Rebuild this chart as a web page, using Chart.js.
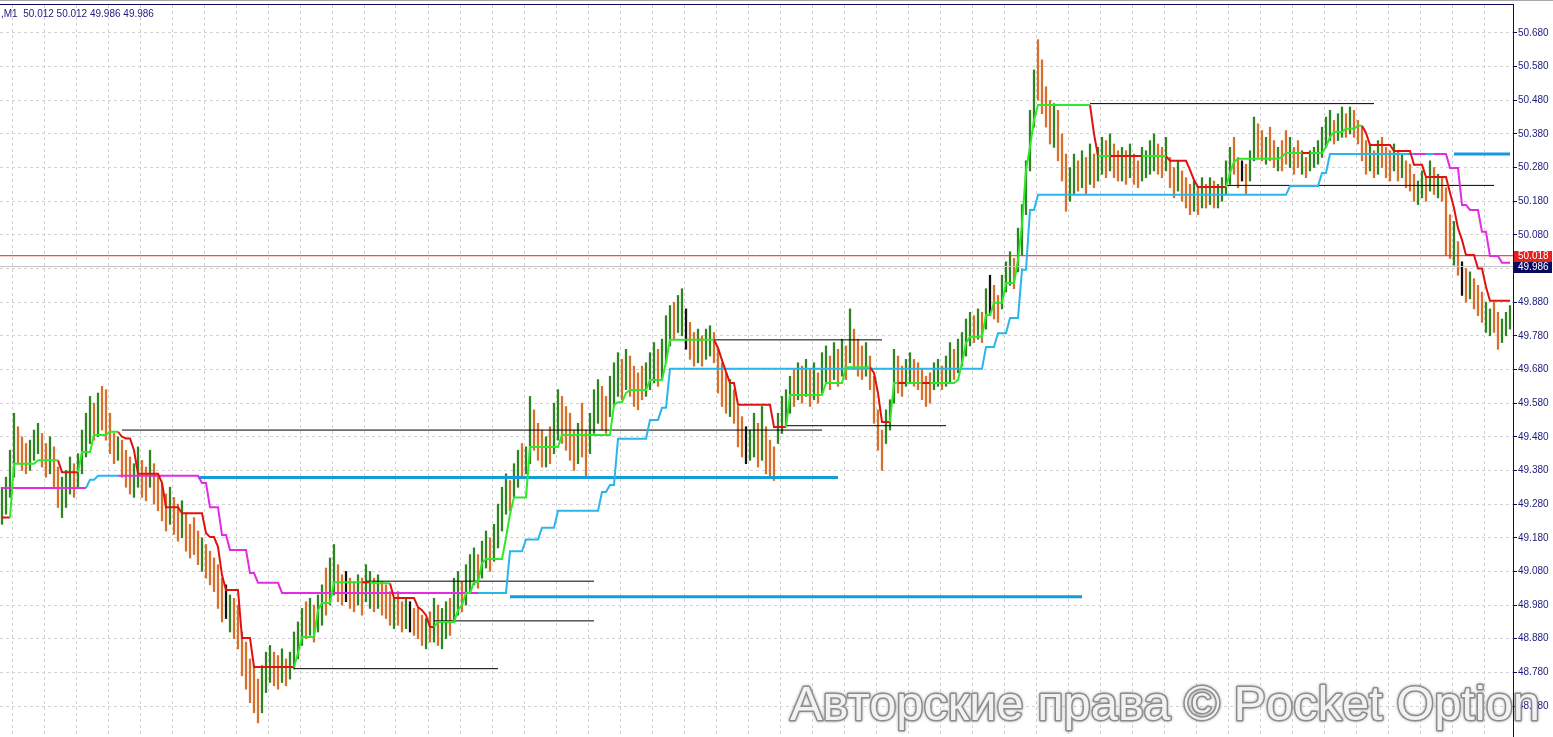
<!DOCTYPE html>
<html>
<head>
<meta charset="utf-8">
<title>M1</title>
<script src="https://cdn.jsdelivr.net/npm/chart.js@4.4.1/dist/chart.umd.min.js"></script>
<style>
  html, body { margin: 0; padding: 0; background: #fff; overflow: hidden; }
  canvas { display: block; }
</style>
</head>
<body>
<canvas id="chart" width="1553" height="737"></canvas>
<script>
// M1 bars, one entry per minute (high / low)
const barHigh = [
    49.33, 49.36, 49.44, 49.55, 49.51, 49.48, 49.46, 49.47,
    49.50, 49.52, 49.49, 49.46, 49.48, 49.45, 49.39, 49.36,
    49.38, 49.42, 49.40, 49.43, 49.50, 49.55, 49.60, 49.58,
    49.61, 49.63, 49.62, 49.55, 49.49, 49.48, 49.47, 49.44,
    49.42, 49.40, 49.45, 49.41, 49.39, 49.44, 49.40, 49.36,
    49.34, 49.31, 49.33, 49.30, 49.28, 49.29, 49.25, 49.22,
    49.24, 49.20, 49.18, 49.16, 49.14, 49.12, 49.10, 49.06,
    49.04, 49.01, 49.00, 48.98, 48.90, 48.87, 48.82, 48.80,
    48.76, 48.80, 48.84, 48.86, 48.84, 48.83, 48.85, 48.82,
    48.84, 48.90, 48.93, 48.97, 48.99, 49.00, 48.98, 49.01,
    49.04, 49.09, 49.12, 49.16, 49.10, 49.07, 49.08, 49.06,
    49.05, 49.07, 49.06, 49.10, 49.08, 49.06, 49.07, 49.05,
    49.04, 49.02, 49.00, 49.02, 48.99, 49.00, 48.99, 48.97,
    48.97, 48.95, 48.94, 48.96, 49.00, 48.98, 48.97, 48.99,
    49.00, 49.06, 49.08, 49.05, 49.10, 49.13, 49.15, 49.13,
    49.17, 49.20, 49.18, 49.22, 49.28, 49.33, 49.37, 49.35,
    49.40, 49.44, 49.46, 49.45, 49.60, 49.56, 49.52, 49.50,
    49.48, 49.51, 49.58, 49.62, 49.60, 49.57, 49.55, 49.50,
    49.52, 49.58, 49.50, 49.55, 49.62, 49.65, 49.63, 49.60,
    49.66, 49.70, 49.73, 49.71, 49.74, 49.72, 49.69, 49.67,
    49.69, 49.70, 49.73, 49.76, 49.74, 49.77, 49.84, 49.87,
    49.88, 49.90, 49.92, 49.86, 49.82, 49.79, 49.80, 49.78,
    49.80, 49.81, 49.79, 49.74, 49.70, 49.67, 49.65, 49.62,
    49.57, 49.54, 49.51, 49.50, 49.55, 49.52, 49.57, 49.51,
    49.47, 49.45, 49.55, 49.60, 49.62, 49.66, 49.68, 49.70,
    49.69, 49.71, 49.68, 49.70, 49.67, 49.73, 49.75, 49.72,
    49.76, 49.74, 49.77, 49.75, 49.86, 49.80, 49.77, 49.75,
    49.76, 49.72, 49.66, 49.56, 49.50, 49.56, 49.59, 49.74,
    49.72, 49.69, 49.71, 49.73, 49.71, 49.70, 49.68, 49.66,
    49.67, 49.70, 49.71, 49.69, 49.72, 49.76, 49.74, 49.77,
    49.79, 49.83, 49.85, 49.84, 49.86, 49.85, 49.92, 49.96,
    49.93, 49.90, 49.96, 50.00, 50.03, 50.01, 50.10, 50.17,
    50.30, 50.45, 50.57, 50.66, 50.60, 50.52, 50.48, 50.47,
    50.45, 50.38, 50.32, 50.28, 50.32, 50.30, 50.33, 50.31,
    50.35, 50.32, 50.34, 50.37, 50.36, 50.38, 50.35, 50.33,
    50.34, 50.33, 50.35, 50.32, 50.30, 50.34, 50.33, 50.36,
    50.38, 50.35, 50.34, 50.37, 50.31, 50.28, 50.30, 50.27,
    50.25, 50.23, 50.24, 50.22, 50.25, 50.23, 50.25, 50.24,
    50.23, 50.25, 50.30, 50.34, 50.37, 50.31, 50.30, 50.29,
    50.33, 50.43, 50.41, 50.39, 50.37, 50.40, 50.36, 50.34,
    50.36, 50.39, 50.37, 50.34, 50.36, 50.33, 50.31, 50.33,
    50.34, 50.36, 50.40, 50.43, 50.45, 50.42, 50.44, 50.46,
    50.44, 50.46, 50.45, 50.42, 50.40, 50.36, 50.35, 50.33,
    50.36, 50.37, 50.34, 50.33, 50.35, 50.33, 50.32, 50.30,
    50.29, 50.26, 50.24, 50.27, 50.25, 50.30, 50.28, 50.26,
    50.25, 50.22, 50.14, 50.12, 50.06, 50.00, 49.98, 49.97,
    49.95, 49.93, 49.91, 49.88, 49.86, 49.88, 49.85, 49.83,
    49.85, 49.87
];
const barLow = [
    49.22, 49.25, 49.30, 49.36, 49.40, 49.38, 49.37, 49.38,
    49.41, 49.43, 49.39, 49.36, 49.37, 49.33, 49.27, 49.24,
    49.27, 49.31, 49.30, 49.33, 49.37, 49.42, 49.46, 49.47,
    49.48, 49.50, 49.47, 49.43, 49.40, 49.41, 49.36, 49.33,
    49.31, 49.30, 49.33, 49.30, 49.29, 49.33, 49.28, 49.26,
    49.23, 49.20, 49.22, 49.19, 49.17, 49.18, 49.14, 49.12,
    49.13, 49.10, 49.08, 49.06, 49.04, 49.02, 48.97, 48.93,
    48.94, 48.90, 48.88, 48.85, 48.77, 48.73, 48.69, 48.66,
    48.63, 48.66, 48.72, 48.75, 48.74, 48.73, 48.75, 48.74,
    48.76, 48.79, 48.82, 48.86, 48.88, 48.89, 48.87, 48.90,
    48.92, 48.95, 48.98, 49.01, 48.99, 48.98, 48.99, 48.97,
    48.96, 48.98, 48.95, 48.99, 48.97, 48.96, 48.97, 48.95,
    48.94, 48.92, 48.91, 48.92, 48.90, 48.91, 48.90, 48.89,
    48.88, 48.86, 48.85, 48.87, 48.87, 48.86, 48.85, 48.88,
    48.89, 48.93, 48.95, 48.96, 48.98, 49.02, 49.04, 49.03,
    49.06, 49.09, 49.08, 49.11, 49.15, 49.20, 49.25, 49.26,
    49.30, 49.33, 49.36, 49.37, 49.40, 49.44, 49.41, 49.39,
    49.39, 49.40, 49.43, 49.47, 49.46, 49.44, 49.41, 49.38,
    49.40, 49.42, 49.36, 49.43, 49.49, 49.52, 49.50, 49.49,
    49.54, 49.57, 49.60, 49.59, 49.62, 49.60, 49.57, 49.56,
    49.59, 49.60, 49.62, 49.64, 49.63, 49.65, 49.70, 49.75,
    49.77, 49.79, 49.78, 49.74, 49.71, 49.69, 49.70, 49.69,
    49.71, 49.72, 49.70, 49.61, 49.57, 49.55, 49.54, 49.52,
    49.45, 49.42, 49.40, 49.41, 49.42, 49.39, 49.41, 49.37,
    49.36, 49.35, 49.46, 49.49, 49.51, 49.55, 49.57, 49.59,
    49.58, 49.60, 49.57, 49.59, 49.58, 49.61, 49.64, 49.62,
    49.65, 49.63, 49.66, 49.65, 49.70, 49.68, 49.66, 49.65,
    49.66, 49.62, 49.52, 49.44, 49.38, 49.46, 49.50, 49.58,
    49.61, 49.60, 49.63, 49.64, 49.63, 49.62, 49.59, 49.57,
    49.58, 49.62, 49.63, 49.62, 49.63, 49.64, 49.65, 49.67,
    49.69, 49.72, 49.75, 49.76, 49.77, 49.76, 49.80, 49.84,
    49.83, 49.82, 49.86, 49.91, 49.93, 49.92, 49.97, 50.02,
    50.14, 50.27, 50.40, 50.48, 50.44, 50.40, 50.35, 50.34,
    50.30, 50.24, 50.15, 50.18, 50.20, 50.21, 50.22, 50.20,
    50.23, 50.22, 50.24, 50.26, 50.25, 50.27, 50.25, 50.24,
    50.24, 50.23, 50.25, 50.23, 50.22, 50.24, 50.25, 50.26,
    50.27, 50.26, 50.25, 50.27, 50.22, 50.19, 50.21, 50.18,
    50.16, 50.14, 50.15, 50.14, 50.16, 50.16, 50.17, 50.16,
    50.16, 50.18, 50.20, 50.23, 50.26, 50.22, 50.24, 50.20,
    50.24, 50.30, 50.31, 50.30, 50.29, 50.30, 50.28, 50.27,
    50.27, 50.29, 50.28, 50.26, 50.28, 50.26, 50.25, 50.27,
    50.28, 50.29, 50.31, 50.34, 50.36, 50.35, 50.36, 50.37,
    50.37, 50.38, 50.37, 50.35, 50.30, 50.26, 50.27, 50.25,
    50.26, 50.28, 50.25, 50.24, 50.27, 50.24, 50.25, 50.22,
    50.21, 50.18, 50.17, 50.19, 50.18, 50.21, 50.20, 50.19,
    50.18, 50.02, 50.01, 49.99, 49.96, 49.90, 49.88, 49.89,
    49.86, 49.84, 49.82, 49.79, 49.78, 49.79, 49.74, 49.76,
    49.78, 49.80
];
// U = up bar (green), D = down bar (orange), N = no change (black)
const barDir =
    'UUUUDDDU' + 'UUDDUDDU' + 'UUDUUUUD' + 'UDDDDUDD' + 'DUUDDUDD' + 'DDUDDUDD' +
    'DDUDDDDD' + 'NUDDDDDD' + 'DUUUDDUD' + 'UUUUDUDU' + 'UDUUDDND' + 'DUDUUDUD' +
    'DDUDDUND' + 'DDUDUDUU' + 'DUUDUUUD' + 'UUDUUUUD' + 'UUDUUDDD' + 'UDUUDDDD' +
    'UDDUUUDD' + 'UUUDUDDD' + 'DUUUDUUU' + 'DUUNDDUD' + 'UUDDDDUD' + 'DDNUUDUD' +
    'DDUUUUDU' + 'DUDUDUUD' + 'UDUDUDDD' + 'UDDDDUUU' + 'DDUUDDDD' + 'DUUDUUDU' +
    'UUUDUDUN' + 'DDUUUDUU' + 'UUUDDDDU' + 'DDDUUDUD' + 'UDUUDUDD' + 'UDUDDUUU' +
    'UDDUDDUD' + 'DDUDUDUD' + 'UUUUDDND' + 'UUDDUDDU' + 'DDUDDUDU' + 'UUUUUDUU' +
    'DUDDDDUD' + 'UDDDUDUD' + 'DDUUDUDU' + 'DDDUDNDU' + 'DDDUUDDU' + 'UU';

// price scale labels (right axis)
const priceTicks = [50.680, 50.580, 50.480, 50.380, 50.280, 50.180, 50.080, 49.980, 49.880, 49.780,
    49.680, 49.580, 49.480, 49.380, 49.280, 49.180, 49.080, 48.980, 48.880, 48.780, 48.680];

// trailing stop: [fromBar, toBar, price, G = up / R = down]
const trailRuns = [
    [0, 2, 49.24, 'R'], [3, 8, 49.40, 'G'], [9, 14, 49.41, 'G'], [15, 19, 49.375, 'R'],
    [20, 22, 49.435, 'G'], [23, 26, 49.485, 'G'], [27, 29, 49.495, 'G'],
    [30, 30, 49.48, 'R'], [31, 32, 49.475, 'R'], [33, 33, 49.44, 'R'], [34, 39, 49.37, 'R'],
    [40, 40, 49.343, 'R'], [41, 44, 49.271, 'R'], [45, 50, 49.253, 'R'], [51, 51, 49.194, 'R'],
    [52, 53, 49.182, 'R'], [54, 54, 49.153, 'R'], [55, 55, 49.069, 'R'], [56, 59, 49.025, 'R'],
    [60, 62, 48.882, 'R'], [63, 73, 48.796, 'R'],
    [74, 74, 48.837, 'G'], [75, 78, 48.885, 'G'], [79, 79, 48.965, 'G'], [80, 82, 48.986, 'G'],
    [83, 90, 49.048, 'G'], [91, 92, 49.048, 'R'], [93, 97, 49.045, 'G'],
    [98, 103, 49.001, 'R'], [104, 104, 48.974, 'R'], [105, 105, 48.965, 'R'], [106, 106, 48.950, 'R'],
    [107, 108, 48.915, 'R'],
    [109, 113, 48.930, 'G'], [114, 114, 48.965, 'G'], [115, 115, 48.980, 'G'], [116, 117, 49.016, 'G'],
    [118, 119, 49.048, 'G'], [120, 120, 49.105, 'G'], [121, 125, 49.117, 'G'], [126, 126, 49.18, 'G'],
    [127, 127, 49.25, 'G'], [128, 131, 49.30, 'G'], [132, 139, 49.45, 'G'], [140, 146, 49.485, 'G'],
    [147, 147, 49.485, 'R'], [148, 152, 49.485, 'G'], [153, 153, 49.575, 'G'], [154, 155, 49.583, 'G'],
    [156, 156, 49.61, 'G'], [157, 161, 49.619, 'G'], [162, 165, 49.649, 'G'], [166, 166, 49.702, 'G'],
    [167, 174, 49.768, 'G'], [175, 175, 49.768, 'R'], [176, 178, 49.768, 'G'],
    [179, 179, 49.744, 'R'], [180, 180, 49.708, 'R'], [181, 181, 49.673, 'R'], [182, 183, 49.640, 'R'],
    [184, 192, 49.575, 'R'], [193, 196, 49.509, 'R'],
    [197, 205, 49.604, 'G'], [206, 210, 49.640, 'G'], [211, 217, 49.687, 'G'],
    [218, 218, 49.670, 'R'], [219, 219, 49.610, 'R'], [220, 222, 49.524, 'R'],
    [223, 224, 49.640, 'G'], [225, 226, 49.640, 'R'], [227, 230, 49.640, 'G'], [231, 232, 49.640, 'R'],
    [233, 238, 49.640, 'G'], [239, 239, 49.649, 'G'], [240, 240, 49.699, 'G'], [241, 241, 49.759, 'G'],
    [242, 245, 49.777, 'G'], [246, 247, 49.842, 'G'], [248, 250, 49.878, 'G'], [251, 253, 49.937, 'G'],
    [254, 254, 50.005, 'G'], [255, 255, 50.11, 'G'], [256, 256, 50.273, 'G'], [257, 257, 50.341, 'G'],
    [258, 258, 50.421, 'G'], [259, 272, 50.466, 'G'],
    [273, 273, 50.38, 'R'], [274, 274, 50.314, 'R'], [275, 277, 50.314, 'G'], [278, 285, 50.314, 'R'],
    [286, 291, 50.314, 'G'], [292, 296, 50.300, 'R'], [297, 297, 50.273, 'R'], [298, 298, 50.243, 'R'],
    [299, 306, 50.222, 'R'],
    [307, 307, 50.264, 'G'], [308, 308, 50.297, 'G'], [309, 319, 50.306, 'G'], [320, 320, 50.312, 'G'],
    [321, 325, 50.323, 'G'], [326, 327, 50.323, 'R'], [328, 330, 50.323, 'G'], [331, 331, 50.341, 'G'],
    [332, 332, 50.371, 'G'], [333, 335, 50.386, 'G'], [336, 338, 50.395, 'G'], [339, 340, 50.404, 'G'],
    [341, 341, 50.383, 'R'], [342, 347, 50.347, 'R'], [348, 352, 50.329, 'R'], [353, 355, 50.288, 'R'],
    [356, 361, 50.252, 'R'], [362, 362, 50.205, 'R'], [363, 363, 50.160, 'R'], [364, 364, 50.100, 'R'],
    [365, 365, 50.065, 'R'], [366, 368, 50.020, 'R'], [369, 370, 49.980, 'R'], [371, 371, 49.925, 'R'],
    [372, 377, 49.884, 'R']
];

// channel line: [fromBar, toBar, price, M = resistance (magenta) / C = support (cyan)]
const channelRuns = [
    [0, 21, 49.328, 'M'], [22, 23, 49.352, 'C'], [24, 29, 49.364, 'C'], [30, 49, 49.364, 'M'],
    [50, 51, 49.343, 'M'], [52, 54, 49.271, 'M'], [55, 56, 49.188, 'M'], [57, 61, 49.144, 'M'],
    [62, 63, 49.075, 'M'], [64, 69, 49.046, 'M'], [70, 119, 49.016, 'M'],
    [120, 126, 49.016, 'C'], [127, 130, 49.14, 'C'], [131, 134, 49.175, 'C'], [135, 138, 49.21, 'C'],
    [139, 149, 49.26, 'C'], [150, 151, 49.316, 'C'], [152, 153, 49.337, 'C'], [154, 161, 49.474, 'C'],
    [162, 164, 49.530, 'C'], [165, 166, 49.566, 'C'], [167, 245, 49.682, 'C'], [246, 248, 49.747, 'C'],
    [249, 251, 49.788, 'C'], [252, 254, 49.833, 'C'], [255, 256, 49.976, 'C'], [257, 258, 50.154, 'C'],
    [259, 321, 50.199, 'C'], [322, 329, 50.225, 'C'], [330, 331, 50.264, 'C'], [332, 353, 50.320, 'C'],
    [354, 356, 50.320, 'M'], [357, 358, 50.320, 'C'], [359, 361, 50.320, 'M'], [362, 364, 50.279, 'M'],
    [365, 366, 50.169, 'M'], [367, 369, 50.154, 'M'], [370, 371, 50.089, 'M'], [372, 374, 50.017, 'M'],
    [375, 377, 49.997, 'M']
];

// thin black levels
const levelFrom = [30, 196, 178, 272, 306, 91, 108, 73];
const levelTo = [205, 236, 220, 343, 373, 148, 148, 124];
const levelPrice = [49.500, 49.513, 49.768, 50.470, 50.227, 49.051, 48.933, 48.791];

// thick blue zones
const zoneFrom = [49, 127, 363];
const zoneTo = [209, 270, 377];
const zonePrice = [49.359, 49.005, 50.320];

const askPrice = 50.018;
const bidPrice = 49.986;
const headerText = ',M1  50.012 50.012 49.986 49.986';
const watermarkText = 'Авторские права © Pocket Option';

const BAR_COUNT = barHigh.length;
const X_MAX = 377.75;
const dirColors = { U: '#2e8420', D: '#d6702a', N: '#111111' };
const axisColor = '#0c0c5e';
const labelColor = '#1b1b7c';

function expandRuns(runs) {
    const vals = Array(BAR_COUNT).fill(null);
    const tags = Array(BAR_COUNT).fill('');
    runs.forEach(([from, to, price, tag]) => {
        for (let i = from; i <= to; i++) { vals[i] = price; tags[i] = tag; }
    });
    return { vals, tags };
}

// keep the bar where the colour switches so the step is drawn in the new colour
function pickTag(run, tag) {
    return run.vals.map((v, i) => ({
        x: i,
        y: (run.tags[i] === tag || run.tags[i + 1] === tag) ? v : null
    }));
}

function lineSet(data, color, width, order) {
    return {
        type: 'line',
        data: data,
        borderColor: color,
        borderWidth: width,
        pointRadius: 0,
        pointHoverRadius: 0,
        fill: false,
        tension: 0,
        order: order
    };
}

const trail = expandRuns(trailRuns);
const channel = expandRuns(channelRuns);

const datasets = [];
datasets.push(lineSet(pickTag(trail, 'G'), '#2ee82a', 2, 1));
datasets.push(lineSet(pickTag(trail, 'R'), '#e0120f', 2, 1));
datasets.push(lineSet(pickTag(channel, 'M'), '#e22be2', 2, 3));
datasets.push(lineSet(pickTag(channel, 'C'), '#29b6ea', 2, 3));
zonePrice.forEach((p, k) => {
    datasets.push(lineSet([{ x: zoneFrom[k], y: p }, { x: zoneTo[k], y: p }], '#139cd8', 3, 5));
});
levelPrice.forEach((p, k) => {
    datasets.push(lineSet([{ x: levelFrom[k], y: p }, { x: levelTo[k], y: p }], '#000000', 1, 6));
});
datasets.push(lineSet([{ x: -0.5, y: askPrice }, { x: X_MAX, y: askPrice }], '#e8211c', 1, 7));
datasets.push(lineSet([{ x: -0.5, y: bidPrice }, { x: X_MAX, y: bidPrice }], '#c4c4c4', 1, 7));
datasets.push({
    type: 'bar',
    data: barHigh.map((h, i) => ({ x: i, y: [barLow[i], h] })),
    backgroundColor: barDir.split('').map(d => dirColors[d]),
    barThickness: 1.6,
    borderWidth: 0,
    order: 20
});

// vertical grid every 8 bars
const gridX = [];
for (let v = 2.5; v < X_MAX; v += 8) gridX.push(v);

const decorPlugin = {
    id: 'decor',
    afterDraw(chart) {
        const { ctx, chartArea: area, scales: { y } } = chart;
        ctx.save();
        // frame
        ctx.fillStyle = '#a8a8a8';
        ctx.fillRect(0, 0, chart.width, 1);
        ctx.fillStyle = axisColor;
        ctx.fillRect(0, area.top - 1, area.right + 1, 1);

        // header
        ctx.font = '10px "Liberation Sans"';
        ctx.fillStyle = labelColor;
        ctx.textBaseline = 'alphabetic';
        ctx.fillText(headerText, 1, 17);

        // price tags on the axis
        const tag = (price, bg) => {
            const py = Math.round(y.getPixelForValue(price));
            ctx.fillStyle = bg;
            ctx.fillRect(area.right + 1, py - 5, 38, 11);
            ctx.fillStyle = '#ffffff';
            ctx.font = '10px "Liberation Sans"';
            ctx.textBaseline = 'middle';
            ctx.fillText(price.toFixed(3), area.right + 5, py + 0.5);
        };
        tag(askPrice, '#e8201c');
        tag(bidPrice, '#0a0a62');

        // watermark
        let size = 48;
        ctx.font = size + 'px "Liberation Sans"';
        size = size * 750 / ctx.measureText(watermarkText).width;
        ctx.font = size.toFixed(1) + 'px "Liberation Sans"';
        ctx.textBaseline = 'alphabetic';
        ctx.lineJoin = 'round';
        ctx.shadowColor = 'rgba(0, 0, 0, 0.35)';
        ctx.shadowBlur = 3;
        ctx.lineWidth = 3;
        ctx.strokeStyle = '#8c8c8c';
        ctx.strokeText(watermarkText, 790, 720);
        ctx.shadowBlur = 0;
        ctx.fillStyle = '#f2f2f2';
        ctx.fillText(watermarkText, 790, 720);
        ctx.restore();
    }
};

new Chart(document.getElementById('chart'), {
    type: 'bar',
    data: { datasets: datasets },
    options: {
        responsive: false,
        animation: false,
        devicePixelRatio: 1,
        events: [],
        layout: { padding: { top: 5, right: 0, bottom: 0, left: 0 } },
        scales: {
            x: {
                type: 'linear',
                offset: false,
                min: -0.5,
                max: X_MAX,
                afterBuildTicks: axis => { axis.ticks = gridX.map(v => ({ value: v })); },
                afterFit: axis => { axis.height = 0; axis.paddingLeft = 0; axis.paddingRight = 0; },
                ticks: { display: false },
                grid: { color: '#d2d2d2', drawTicks: false, offset: false },
                border: { display: false, dash: [3, 3] }
            },
            y: {
                position: 'right',
                min: 48.588,
                max: 50.763,
                afterBuildTicks: axis => { axis.ticks = priceTicks.map(v => ({ value: v })); },
                afterFit: axis => { axis.width = 40; axis.paddingTop = 0; axis.paddingBottom = 0; },
                ticks: {
                    color: labelColor,
                    font: { family: 'Liberation Sans', size: 10 },
                    padding: 1,
                    autoSkip: false,
                    callback: v => Number(v).toFixed(3)
                },
                grid: { color: '#d2d2d2', tickColor: axisColor, tickLength: 4, tickBorderDash: [] },
                border: { color: axisColor, width: 1, dash: [3, 3] }
            }
        },
        plugins: {
            legend: { display: false },
            tooltip: { enabled: false }
        }
    },
    plugins: [decorPlugin]
});
</script>
</body>
</html>
